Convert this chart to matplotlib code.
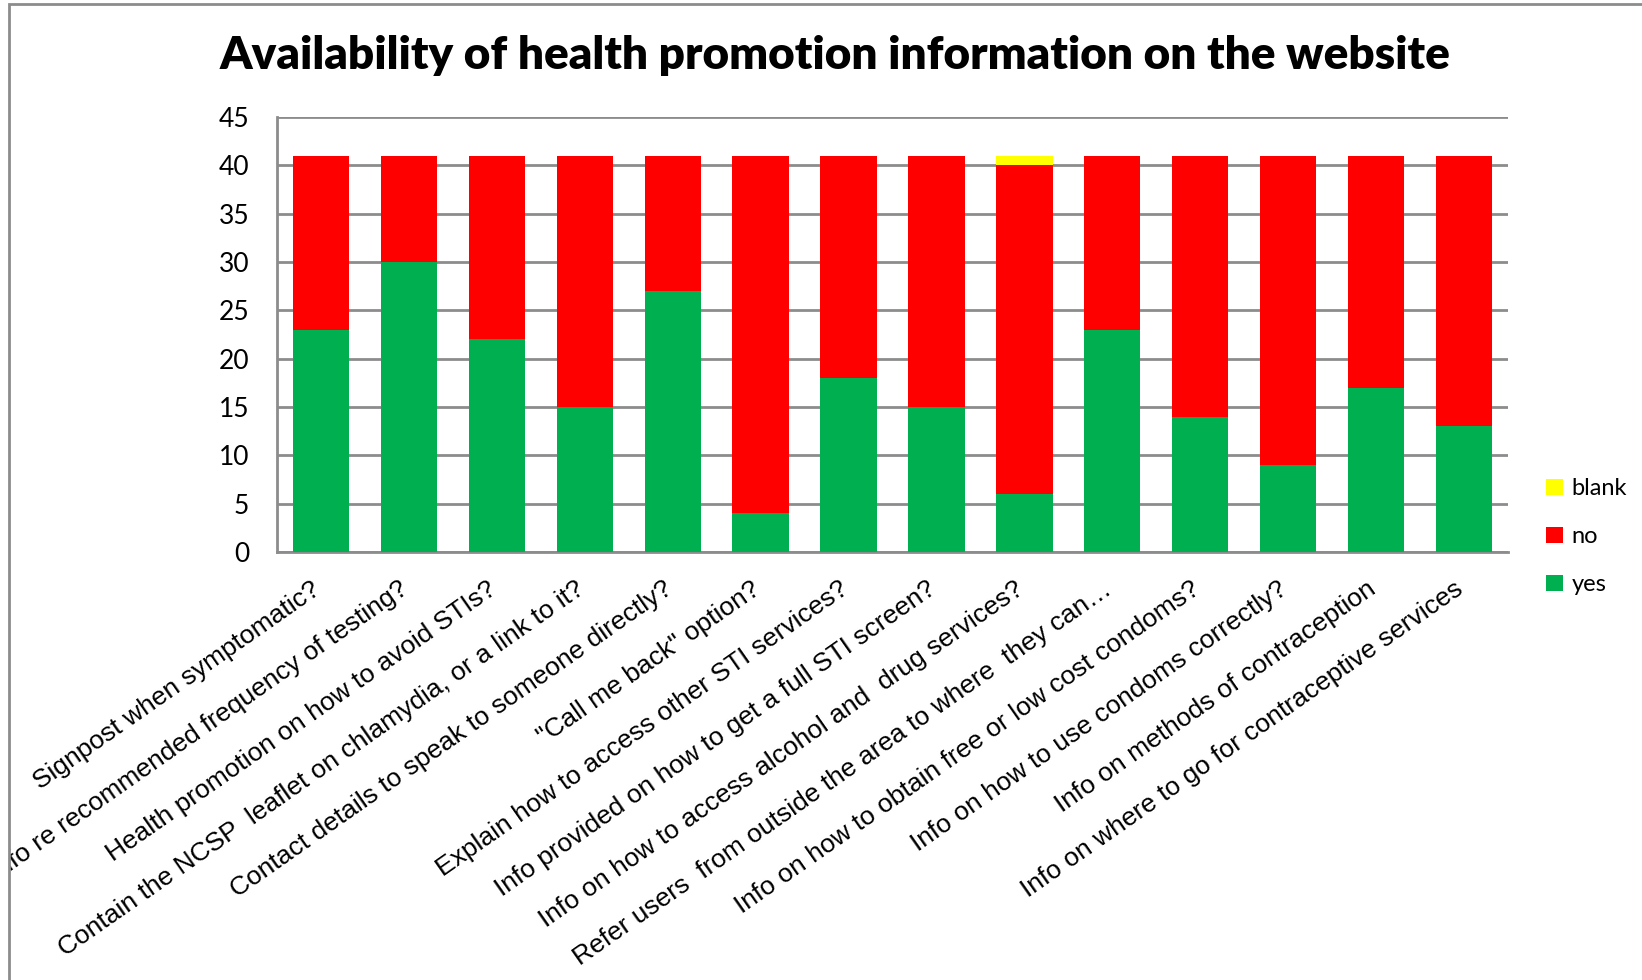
import matplotlib
matplotlib.use("Agg")
import matplotlib.pyplot as plt
from matplotlib.patches import Rectangle
from matplotlib.transforms import Bbox, TransformedBbox, ScaledTranslation

# Survey answers per website question (41 websites reviewed)
questions = [
    "Signpost when symptomatic?",
    "Info re recommended frequency of testing?",
    "Health promotion on how to avoid STIs?",
    "Contain the NCSP  leaflet on chlamydia, or a link to it?",
    "Contact details to speak to someone directly?",
    "\"Call me back\" option?",
    "Explain how to access other STI services?",
    "Info provided on how to get a full STI screen?",
    "Info on how to access alcohol and  drug services?",
    "Refer users  from outside the area to where  they can\u2026",
    "Info on how to obtain free or low cost condoms?",
    "Info on how to use condoms correctly?",
    "Info on methods of contraception",
    "Info on where to go for contraceptive services",
]
yes = [23, 30, 22, 15, 27, 4, 18, 15, 6, 23, 14, 9, 17, 13]
no = [18, 11, 19, 26, 14, 37, 23, 26, 34, 18, 27, 32, 24, 28]
blank = [0, 0, 0, 0, 0, 0, 0, 0, 1, 0, 0, 0, 0, 0]

GREEN = "#00B050"
RED = "#FF0000"
YELLOW = "#FFFF00"
GRID = "#8C8C8C"

fig = plt.figure(figsize=(16.42, 9.8), dpi=100)
ax = fig.add_axes([0.1687, 0.4367, 0.7497, 0.4439])

x = range(len(questions))
no_bottom = yes
blank_bottom = [a + b for a, b in zip(yes, no)]
b_yes = ax.bar(x, yes, width=0.64, color=GREEN, label="yes", zorder=3)
b_no = ax.bar(x, no, width=0.64, bottom=no_bottom, color=RED, label="no", zorder=3)
b_blank = ax.bar(x, blank, width=0.64, bottom=blank_bottom, color=YELLOW, label="blank", zorder=3)

ax.set_xlim(-0.5, len(questions) - 0.5)
ax.set_ylim(0, 45)
ax.set_yticks(range(0, 46, 5))
ax.yaxis.grid(True, color=GRID, linewidth=2, zorder=0)
ax.set_axisbelow(True)
for side in ["top", "right"]:
    ax.spines[side].set_visible(False)
for side in ["left", "bottom"]:
    ax.spines[side].set_color(GRID)
    ax.spines[side].set_linewidth(2)
ax.tick_params(axis="y", length=0, pad=20, labelsize=19)
ax.tick_params(axis="x", length=0, pad=18)
for lbl in ax.get_yticklabels():
    lbl.set_fontfamily("Lato")

ax.set_xticks(list(x))
ax.set_xticklabels(questions, rotation=35, ha="right", rotation_mode="anchor",
                   fontsize=19, fontfamily="Liberation Sans")

# frame around the chart area; long labels get cut at its left edge
fig.patches.append(Rectangle((9 / 1642, -0.1), 1.2, 1 - 4 / 980 + 0.1,
                             transform=fig.transFigure, fill=False,
                             edgecolor=GRID, linewidth=2))
clip = TransformedBbox(Bbox([[10 / 1642, 0], [1, 1]]), fig.transFigure)
shift = ScaledTranslation(-10 / 100, 0, fig.dpi_scale_trans)
for lbl in ax.get_xticklabels():
    lbl.set_transform(lbl.get_transform() + shift)
    lbl.set_clip_on(True)
    lbl.set_clip_box(clip)

fig.text(0.5085, 0.943, "Availability of health promotion information on the website",
         ha="center", va="center", fontsize=33, fontweight="heavy", fontfamily="Lato")

ax.legend(handles=[b_blank, b_no, b_yes], loc="center left",
          bbox_to_anchor=(1.014, 0.035), frameon=False,
          prop={"family": "Lato", "size": 17}, handlelength=0.7, handleheight=0.7,
          labelspacing=1.15, handletextpad=0.35)

fig.savefig("out.png", dpi=100)
